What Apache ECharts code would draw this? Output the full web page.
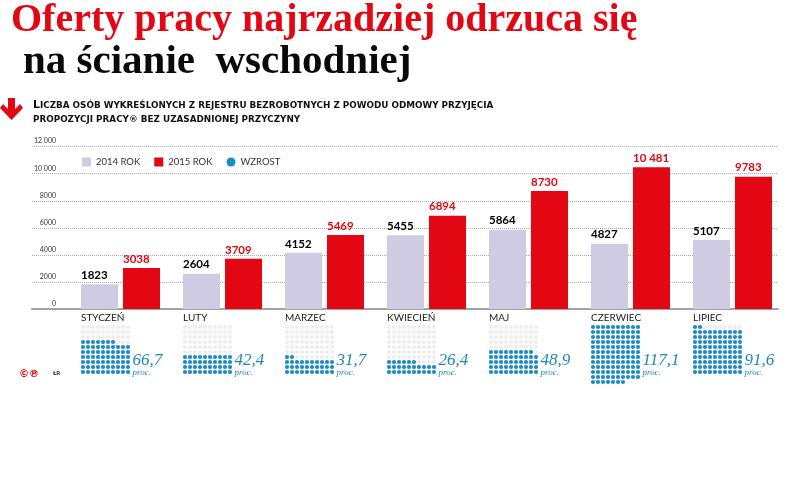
<!DOCTYPE html>
<html>
<head>
<meta charset="utf-8">
<style>html,body{margin:0;background:#fff}#main{width:788px;height:485px}</style>
<script src="https://cdn.jsdelivr.net/npm/echarts@6/dist/echarts.min.js"></script>
</head>
<body>
<div id="main"></div>
<script>
var months = ['STYCZEŃ', 'LUTY', 'MARZEC', 'KWIECIEŃ', 'MAJ', 'CZERWIEC', 'LIPIEC'];
var rok2014 = [1823, 2604, 4152, 5455, 5864, 4827, 5107];
var rok2015 = [3038, 3709, 5469, 6894, 8730, 10481, 9783];
var wzrost = ['66,7', '42,4', '31,7', '26,4', '48,9', '117,1', '91,6'];
var wzrostDots = [67, 40, 32, 26, 49, 117, 92];
var yTicks = {0: '0', 2000: '2000', 4000: '4000', 6000: '6000', 8000: '8000', 10000: '10 000', 12000: '12 000'};

var RED = '#e30613', LILAC = '#cfcbe3', BLUE = '#1a8cc8';

function fmt(v) {
  return v >= 10000 ? String(v).slice(0, -3) + ' ' + String(v).slice(-3) : String(v);
}

// siatka kropek: 10 x 10, ponad 100 schodzi w dol
function cells(n) {
  var out = [];
  for (var k = 0; k < n; k++) {
    var row = n > 100 ? Math.floor(k / 10) : 9 - Math.floor(k / 10);
    out.push([k % 10, row]);
  }
  return out;
}
function greyCells() {
  return cells(100);
}

var grids = [
  {left: 32, width: 746, top: 146.7, height: 162.3},   // osie i linie
  {left: 69.5, width: 714, top: 146.7, height: 162.3}, // slupki
  {left: 81, width: 612, top: 146.7, height: 162.3}    // nazwy miesiecy
];
var xAxes = [
  {gridIndex: 0, type: 'value', min: 0, max: 1, splitLine: {show: false}, axisTick: {show: false}, axisLabel: {show: false},
    axisLine: {show: true, lineStyle: {color: '#a3a3a3', width: 2}}},
  {gridIndex: 1, type: 'category', data: months, show: false},
  {gridIndex: 2, type: 'category', data: months, boundaryGap: false, axisLine: {show: false}, axisTick: {show: false},
    axisLabel: {interval: 0, align: 'left', margin: 4, fontFamily: 'Lato', fontSize: 10, color: '#222',
      showMinLabel: true, showMaxLabel: true, hideOverlap: false}}
];
var yAxes = [
  {gridIndex: 0, type: 'value', min: 0, max: 12000, interval: 2000,
    axisLine: {show: false}, axisTick: {show: false},
    splitLine: {lineStyle: {color: '#aaaaaa', type: 'dotted', width: 1}},
    axisLabel: {inside: true, margin: 24, align: 'right', verticalAlign: 'bottom', padding: [0, 0, 2, 0], fontFamily: 'Lato', fontSize: 7, color: '#333',
      formatter: function (v) { return yTicks[v]; }}},
  {gridIndex: 1, type: 'value', min: 0, max: 12000, show: false},
  {gridIndex: 2, type: 'value', min: 0, max: 12000, show: false}
];

function barLabel(color) {
  return {show: true, position: [0, -15], color: color, fontFamily: 'Lato', fontWeight: 'bold', fontSize: 11.5,
    formatter: function (p) { return fmt(p.value); }};
}
var series = [
  {name: '2014 ROK', type: 'bar', xAxisIndex: 1, yAxisIndex: 1, data: rok2014, barWidth: 37, barGap: '13.5%',
    itemStyle: {color: LILAC}, label: barLabel('#000')},
  {name: '2015 ROK', type: 'bar', xAxisIndex: 1, yAxisIndex: 1, data: rok2015, barWidth: 37,
    itemStyle: {color: RED}, label: barLabel(RED)}
];
var graphic = [];

months.forEach(function (m, i) {
  var gx = 80.5 + 102 * i;
  var g = grids.length;
  grids.push({left: gx, width: 50, top: 324.5, height: 60});
  xAxes.push({gridIndex: g, type: 'value', min: -0.5, max: 9.5, show: false});
  yAxes.push({gridIndex: g, type: 'value', min: -0.5, max: 11.5, inverse: true, show: false});
  series.push({name: 'tlo', type: 'scatter', xAxisIndex: g, yAxisIndex: g, symbolSize: 4.2, silent: true,
    itemStyle: {color: '#eeeeee', opacity: 1}, data: greyCells()});
  series.push({name: 'WZROST', type: 'scatter', xAxisIndex: g, yAxisIndex: g, symbolSize: 4.2, z: 3, silent: true,
    itemStyle: {color: BLUE, opacity: 1}, data: cells(wzrostDots[i])});
  graphic.push({type: 'text', left: gx + 52, top: 352, style: {text: wzrost[i], fill: '#1f87bf',
    font: 'italic 17px "Liberation Serif"'}});
  graphic.push({type: 'text', left: gx + 52, top: 368, style: {text: 'proc.', fill: '#1f87bf',
    font: 'italic 9px "Liberation Serif"'}});
});

graphic.push(
  {type: 'polygon', shape: {points: [[8, 98], [15, 98], [15, 109], [20, 104], [23, 108], [11.5, 120], [0, 108], [3, 104], [8, 109]]},
    style: {fill: RED}},
  {type: 'text', left: 19, top: 369, style: {text: '©℗', fill: RED, font: 'bold 10px "DejaVu Sans"'}},
  {type: 'text', left: 53, top: 370, style: {text: 'ŁR', fill: '#222', font: 'bold 6px Lato'}}
);

var chart = echarts.init(document.getElementById('main'));
chart.setOption({
  animation: false,
  backgroundColor: '#fff',
  title: [
    {text: 'Oferty pracy najrzadziej odrzuca się', left: 11, top: 1, padding: 0,
      textStyle: {fontFamily: 'Liberation Serif', fontWeight: 'bold', fontSize: 40, color: RED}},
    {text: 'na ścianie  wschodniej', left: 23, top: 42, padding: 0,
      textStyle: {fontFamily: 'Liberation Serif', fontWeight: 'bold', fontSize: 41, color: '#0a0a0a'}},
    {text: '{a|L}{b|ICZBA OSÓB WYKREŚLONYCH Z REJESTRU BEZROBOTNYCH Z POWODU ODMOWY PRZYJĘCIA}', left: 33, top: 100, padding: 0,
      textStyle: {rich: {
        a: {fontFamily: 'DejaVu Sans', fontWeight: 'bold', fontSize: 10.9, color: '#111'},
        b: {fontFamily: 'DejaVu Sans', fontWeight: 'bold', fontSize: 8.8, color: '#111'}}}},
    {text: 'PROPOZYCJI PRACY® BEZ UZASADNIONEJ PRZYCZYNY', left: 33, top: 115, padding: 0,
      textStyle: {fontFamily: 'DejaVu Sans', fontWeight: 'bold', fontSize: 8.8, color: '#111'}}
  ],
  legend: {left: 82, top: 157, padding: 0, itemWidth: 9, itemHeight: 9, itemGap: 14, selectedMode: false,
    textStyle: {fontFamily: 'Lato', fontSize: 9.5, color: '#333'},
    data: [{name: '2014 ROK', icon: 'rect'}, {name: '2015 ROK', icon: 'rect'}, {name: 'WZROST', icon: 'circle'}]},
  grid: grids,
  xAxis: xAxes,
  yAxis: yAxes,
  series: series,
  graphic: graphic
});
</script>
</body>
</html>
